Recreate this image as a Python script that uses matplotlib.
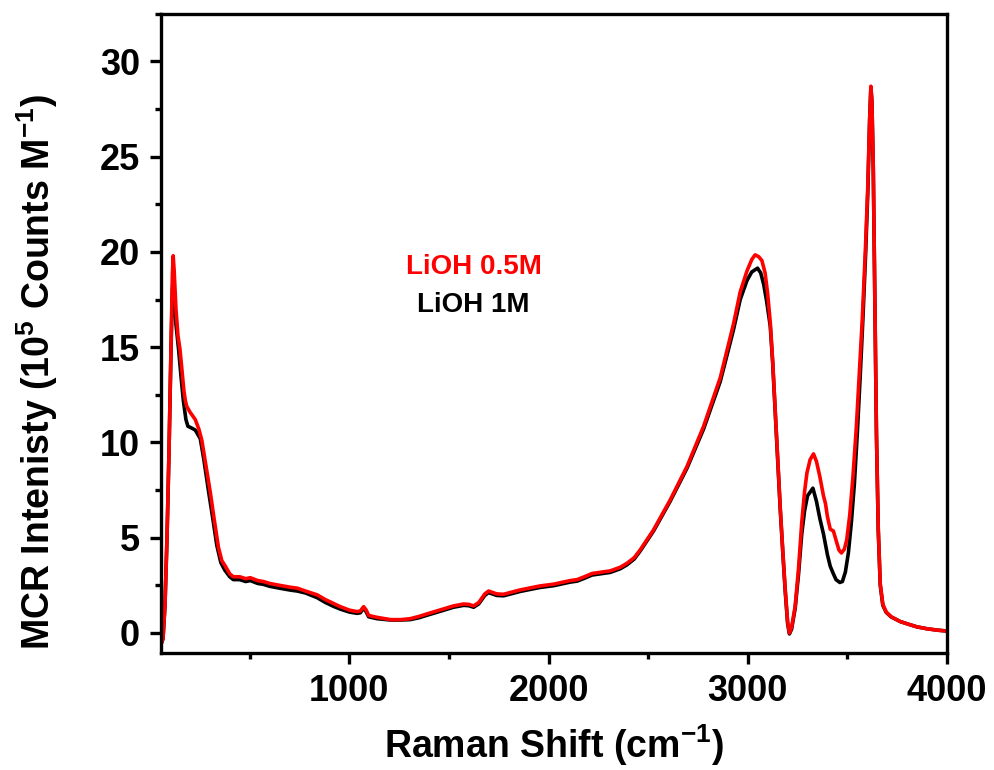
import matplotlib
matplotlib.use("Agg")
import matplotlib.pyplot as plt
from matplotlib.ticker import MultipleLocator

plt.rcParams['font.family'] = ['Liberation Sans', 'DejaVu Sans']
plt.rcParams['font.weight'] = 'bold'
plt.rcParams['mathtext.default'] = 'regular'

# LiOH 0.5M spectrum (Raman shift in cm-1, intensity in 1e5 counts/M)
shift_05 = [55, 65, 75, 85, 95, 105, 112, 116, 121, 130, 140, 150, 160, 170, 177,
            184, 200, 227, 245, 260, 280, 302, 320, 343, 360, 378, 400, 418, 450,
            480, 503, 540, 569, 600, 650, 704, 739, 780, 839, 880, 920, 955, 1000,
            1039, 1055, 1072, 1085, 1097, 1139, 1206, 1260, 1306, 1350, 1390, 1457,
            1523, 1574, 1600, 1624, 1650, 1680, 1699, 1740, 1774, 1858, 1958, 2025,
            2109, 2143, 2180, 2218, 2310, 2360, 2394, 2430, 2460, 2527, 2611, 2695,
            2778, 2862, 2928, 2962, 2996, 3020, 3037, 3055, 3071, 3087, 3100, 3113,
            3125, 3137, 3150, 3163, 3176, 3188, 3200, 3209, 3220, 3238, 3255, 3271,
            3285, 3297, 3313, 3330, 3345, 3362, 3380, 3390, 3400, 3414, 3430, 3445,
            3458, 3470, 3485, 3497, 3512, 3528, 3545, 3560, 3575, 3590, 3602, 3612,
            3618, 3623, 3630, 3638, 3646, 3655, 3665, 3678, 3695, 3720, 3765, 3800,
            3849, 3900, 3950, 4000]
mcr_05 = [-0.6, -0.3, 1.5, 5.0, 9.5, 15.0, 18.8, 19.8, 19.0, 17.0, 15.6, 14.9, 13.8,
          12.7, 12.2, 11.9, 11.6, 11.2, 10.7, 10.1, 8.8, 7.4, 6.1, 4.5, 3.8, 3.5, 3.1,
          2.95, 2.95, 2.85, 2.9, 2.75, 2.7, 2.6, 2.5, 2.4, 2.35, 2.2, 2.0, 1.75, 1.55,
          1.38, 1.2, 1.12, 1.15, 1.38, 1.2, 0.92, 0.82, 0.7, 0.7, 0.75, 0.87, 1.0,
          1.21, 1.42, 1.52, 1.5, 1.42, 1.6, 2.05, 2.2, 2.05, 2.03, 2.26, 2.47, 2.56,
          2.75, 2.8, 2.95, 3.12, 3.26, 3.45, 3.66, 3.95, 4.36, 5.41, 6.99, 8.74,
          10.84, 13.4, 16.2, 17.9, 19.0, 19.6, 19.85, 19.75, 19.55, 18.9, 17.8, 16.3,
          14.3, 11.9, 9.2, 6.6, 4.3, 2.3, 0.6, 0.0, 0.3, 1.4, 3.4, 5.8, 7.4, 8.4,
          9.1, 9.4, 9.0, 8.2, 7.2, 6.8, 6.1, 5.45, 5.35, 4.8, 4.35, 4.2, 4.4, 4.9,
          6.2, 8.2, 10.8, 13.6, 16.5, 20.0, 23.3, 27.0, 28.7, 28.0, 24.5, 17.5, 10.5,
          5.5, 2.6, 1.5, 1.1, 0.85, 0.6, 0.48, 0.32, 0.22, 0.15, 0.1]

# LiOH 1M spectrum
shift_1 = [55, 65, 75, 85, 95, 105, 112, 116, 121, 130, 143, 155, 167, 180, 190,
           210, 227, 252, 270, 294, 315, 335, 355, 375, 400, 418, 450, 480, 503,
           540, 569, 600, 650, 704, 739, 780, 839, 880, 920, 955, 1000, 1039, 1055,
           1072, 1085, 1097, 1139, 1206, 1260, 1306, 1350, 1390, 1457, 1523, 1574,
           1600, 1624, 1650, 1680, 1699, 1740, 1774, 1858, 1958, 2025, 2109, 2143,
           2180, 2218, 2310, 2360, 2394, 2430, 2460, 2527, 2611, 2695, 2778, 2862,
           2928, 2962, 2996, 3020, 3049, 3065, 3080, 3095, 3113, 3125, 3137, 3150,
           3163, 3176, 3188, 3200, 3209, 3220, 3238, 3255, 3271, 3285, 3300, 3327,
           3345, 3362, 3380, 3400, 3414, 3430, 3443, 3462, 3475, 3490, 3505, 3520,
           3535, 3550, 3565, 3578, 3592, 3603, 3612, 3618, 3623, 3630, 3638, 3646,
           3655, 3665, 3678, 3695, 3720, 3765, 3800, 3849, 3900, 3950, 4000]
mcr_1 = [-0.6, -0.3, 1.5, 5.0, 9.5, 14.8, 18.0, 18.6, 17.8, 16.2, 14.9, 13.5, 12.2,
         11.2, 10.85, 10.75, 10.65, 10.2, 9.1, 7.4, 6.0, 4.6, 3.7, 3.3, 2.95, 2.8,
         2.8, 2.7, 2.75, 2.6, 2.55, 2.45, 2.35, 2.25, 2.2, 2.1, 1.85, 1.6, 1.4, 1.25,
         1.1, 1.03, 1.06, 1.3, 1.1, 0.85, 0.75, 0.68, 0.68, 0.7, 0.8, 0.93, 1.14,
         1.35, 1.45, 1.43, 1.35, 1.53, 1.97, 2.12, 1.97, 1.95, 2.18, 2.39, 2.48,
         2.67, 2.72, 2.87, 3.04, 3.18, 3.37, 3.58, 3.88, 4.3, 5.35, 6.92, 8.65,
         10.7, 13.2, 15.9, 17.5, 18.5, 18.95, 19.15, 18.9, 18.3, 17.4, 16.1, 14.2,
         11.8, 9.1, 6.5, 4.2, 2.2, 0.5, -0.05, 0.2, 1.3, 3.1, 5.2, 6.4, 7.2, 7.6,
         6.9, 6.0, 5.2, 4.1, 3.5, 3.1, 2.8, 2.65, 2.7, 3.2, 4.2, 5.8, 7.8, 10.5,
         13.6, 16.5, 20.0, 23.3, 27.0, 28.6, 27.9, 24.4, 17.4, 10.4, 5.4, 2.5, 1.45,
         1.08, 0.84, 0.6, 0.48, 0.32, 0.22, 0.15, 0.1]

fig = plt.figure(figsize=(9.94, 7.70), dpi=100)
ax = fig.add_axes([0.162, 0.152, 0.7907, 0.830])

ax.plot(shift_1, mcr_1, color='black', linewidth=2.6, solid_joinstyle='round')
ax.plot(shift_05, mcr_05, color='red', linewidth=2.6, solid_joinstyle='round')

ax.set_xlim(55, 4000)
ax.set_ylim(-1.05, 32.5)

ax.xaxis.set_major_locator(MultipleLocator(1000))
ax.xaxis.set_minor_locator(MultipleLocator(500))
ax.yaxis.set_major_locator(MultipleLocator(5))
ax.yaxis.set_minor_locator(MultipleLocator(2.5))

ax.tick_params(which='both', direction='out', top=False, right=False, width=2.4)
ax.tick_params(which='major', length=8, labelsize=26, pad=7)
ax.tick_params(which='minor', length=4)
for lab in ax.get_xticklabels() + ax.get_yticklabels():
    lab.set_fontweight('bold')
for sp in ax.spines.values():
    sp.set_linewidth(2.4)

ax.set_xlabel('Raman Shift (cm$^{-1}$)', fontsize=27, fontweight='bold', labelpad=10)
ax.set_ylabel('MCR Intenisty (10$^5$ Counts M$^{-1}$)', fontsize=27,
              fontweight='bold')
ax.yaxis.set_label_coords(-0.128, 0.44)

ax.text(1000 + (474 - 349) * 5.018, 19.2, 'LiOH 0.5M', color='red', fontsize=20,
        fontweight='bold', ha='center', va='center')
ax.text(1000 + (473 - 349) * 5.018, 17.2, 'LiOH 1M', color='black', fontsize=20,
        fontweight='bold', ha='center', va='center')

fig.savefig('out.png', dpi=100)
